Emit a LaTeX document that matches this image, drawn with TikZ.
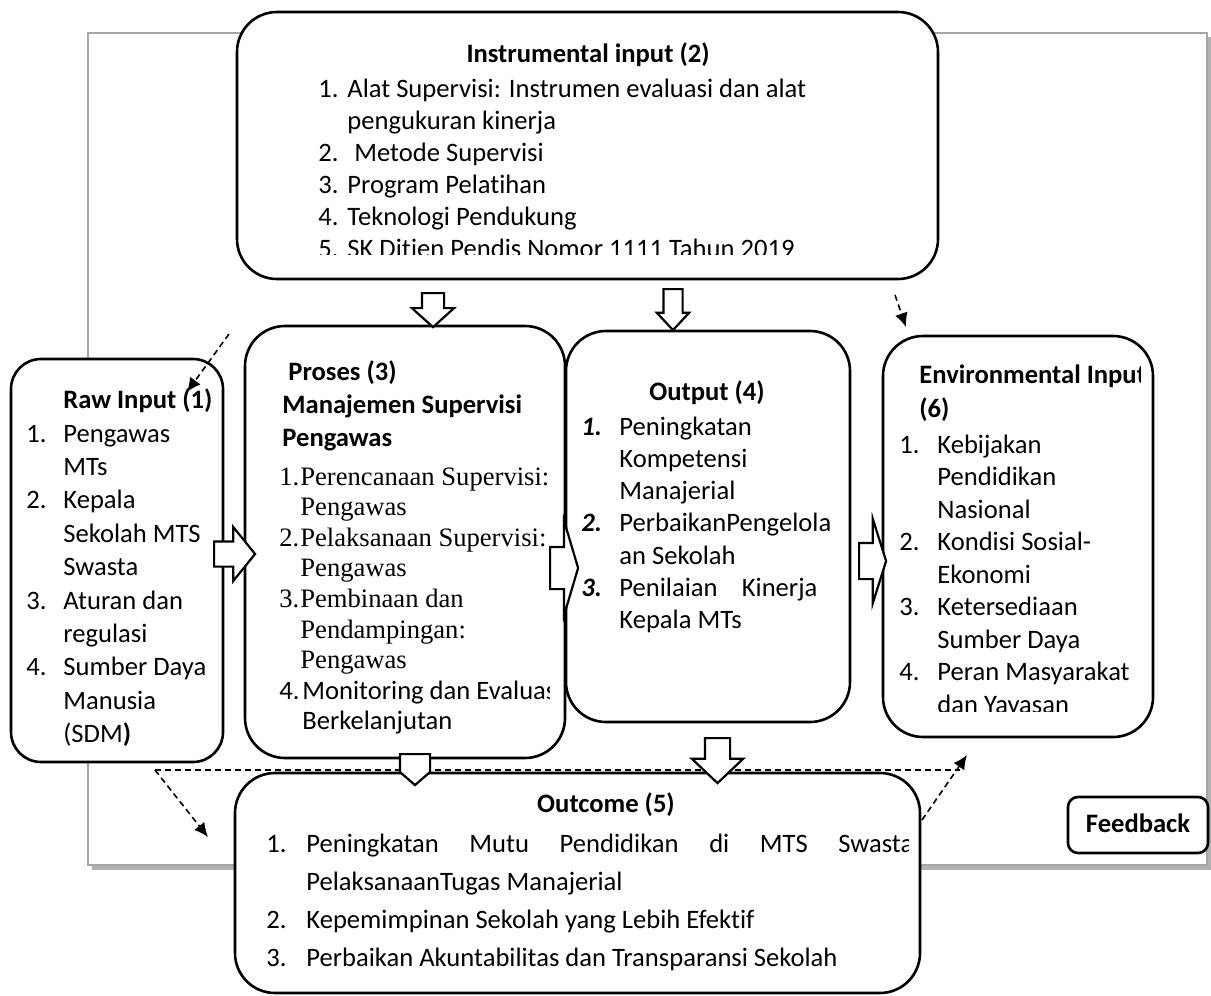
\documentclass[tikz,border=0pt]{standalone}
\usepackage{fontspec}
\setmainfont{Carlito}[Ligatures=NoCommon]
\newfontfamily\timesfont{Liberation Serif}
\usetikzlibrary{arrows.meta,shapes.arrows}
\newcommand{\itemlist}[2]{\begin{tabular}[t]{@{}p{#1}@{}l@{}}#2\end{tabular}}
\newcommand{\rowlist}[1]{\begin{tabular}[t]{@{}l@{}}#1\end{tabular}}

\begin{document}
\fontsize{13.3pt}{16.25pt}\selectfont
\begin{tikzpicture}[x=0.5pt,y=-0.5pt,>={Latex[length=7pt,width=6.5pt]}]
  \tikzset{box/.style={draw,line width=1.3pt,fill=white,rounded corners=20pt,inner sep=0pt},
    txt/.style={anchor=base west,inner sep=0pt},
    lst/.style={txt,font=\fontsize{13.3pt}{#1}\selectfont},
    ttl/.style={anchor=base,inner sep=0pt,font=\bfseries},
    blockarrow/.style={single arrow,draw,fill=white,line width=1.1pt,inner xsep=0pt,minimum width=0pt,anchor=tail},
    feedline/.style={line width=0.8pt,dash pattern=on 3pt off 2pt},
    feedarrow/.style={feedline,->}}

  \useasboundingbox (0,0) rectangle (1211,996);

  % frame
  \draw[black!30,line width=2pt] (92,868) -- (1209,868) -- (1209,37);
  \draw[gray!70,line width=0.8pt] (88,33) rectangle (1207,865);

  % boxes
  \node[box,minimum width=350.5pt,minimum height=133.5pt] (instr) at (587.5,145.5) {};
  \node[box,rounded corners=15pt,minimum width=106pt,minimum height=201.5pt] (raw) at (117,560.5) {};
  \node[box,minimum width=160pt,minimum height=216pt] (proses) at (405,542) {};
  \node[box,minimum width=142pt,minimum height=195.5pt] (output) at (708,526.5) {};
  \node[box,minimum width=135pt,minimum height=200.5pt] (env) at (1018,536.5) {};
  \node[box,minimum width=342.5pt,minimum height=110pt] (outcome) at (577.5,883) {};
  \node[box,rounded corners=5pt,minimum width=70pt,minimum height=28pt] (feedback) at (1138,825) {};

  % feedback lines
  \coordinate (fbin1) at (229,334);
  \coordinate (fbin2) at (187,392);
  \coordinate (fbtop1) at (895,295);
  \coordinate (fbtop2) at (906,327);
  \coordinate (fbleft) at (155,770);
  \coordinate (fbright) at (960,770);
  \coordinate (fbdown) at (208,837);
  \coordinate (fbup1) at (922,820);
  \coordinate (fbup2) at (967,755);
  \draw[feedarrow] (fbin1) -- (fbin2);
  \draw[feedarrow] (fbtop1) -- (fbtop2);
  \draw[feedline] (fbleft) -- (fbright);
  \draw[feedarrow] (fbleft) -- (fbdown);
  \draw[feedarrow] (fbup1) -- (fbup2);

  % block arrows
  \node[blockarrow,inner ysep=5.75pt,single arrow head extend=7.25pt,minimum height=20.5pt,single arrow tip angle=102] (a1) at (213,554) {};
  \node[blockarrow,inner ysep=10pt,single arrow head extend=13.25pt,minimum height=14pt,single arrow tip angle=147] (a2) at (549,568) {};
  \node[blockarrow,inner ysep=8.5pt,single arrow head extend=12pt,minimum height=13.5pt,single arrow tip angle=145] (a3) at (858,561) {};
  \node[blockarrow,rotate=-90,inner ysep=5pt,single arrow head extend=5pt,minimum height=17pt,single arrow tip angle=96] (a4) at (433,292) {};
  \node[blockarrow,rotate=-90,inner ysep=4.25pt,single arrow head extend=3.25pt,minimum height=20.5pt,single arrow tip angle=86] (a5) at (673,288) {};
  \node[blockarrow,rotate=-90,inner ysep=7pt,single arrow head extend=0pt,minimum height=15.5pt,single arrow tip angle=98] (a6) at (415,753) {};
  \node[blockarrow,rotate=-90,inner ysep=5.75pt,single arrow head extend=6.5pt,minimum height=22.5pt,single arrow tip angle=93] (a7) at (717.5,737) {};

  % texts
  \node[ttl] (instrttl) at (588,62) {Instrumental input (2)};
  \begin{scope}
    \clip (237,12) rectangle (938,254);
    \node[lst=16pt] (instrlist) at (318,97) {\itemlist{14.5pt}{1. & Alat Supervisi: Instrumen evaluasi dan alat\\
      & pengukuran kinerja\\
      2. & \hspace{3.5pt}Metode Supervisi\\
      3. & Program Pelatihan\\
      4. & Teknologi Pendukung\\
      5. & SK Ditjen Pendis Nomor 1111 Tahun 2019}};
  \end{scope}

  \node[txt,font=\bfseries] (rawttl) at (63,408) {Raw Input (1)};
  \node[lst=16.7pt] (rawlist) at (26,442) {\itemlist{18.5pt}{1. & Pengawas\\ & MTs\\
      2. & Kepala\\ & Sekolah MTS\\ & Swasta\\
      3. & Aturan dan\\ & regulasi\\
      4. & Sumber Daya\\ & Manusia\\ & (SDM\textbf{)}}};

  \node[lst=16.5pt] (prosesttl) at (282,380) {\bfseries\rowlist{\hspace{3pt}Proses (3)\\ Manajemen Supervisi\\ Pengawas}};
  \begin{scope}
    \clip (245,326) rectangle (549,733);
    \node[lst=15.3pt] (proseslist) at (279,485) {\timesfont\itemlist{10.5pt}{1. & Perencanaan Supervisi:\\ & Pengawas\\
      2. & Pelaksanaan Supervisi:\\ & Pengawas\\
      3. & Pembinaan dan\\ & Pendampingan:\\ & Pengawas\\
      \normalfont 4. & \normalfont\hspace{1pt}Monitoring dan Evaluasi\\ & \normalfont\hspace{1pt}Berkelanjutan}};
  \end{scope}

  \node[ttl] (outputttl) at (707,400) {Output (4)};
  \node[lst=16.15pt] (outputlist) at (581,435) {\itemlist{19pt}{\textbf{\textit{1.}} & Peningkatan\\ & Kompetensi\\ & Manajerial\\
      \textbf{\textit{2.}} & PerbaikanPengelola\\ & an Sekolah\\
      \textbf{\textit{3.}} & \makebox[99pt][s]{Penilaian\hfill Kinerja}\\ & Kepala MTs}};

  \begin{scope}
    \clip (883,336) rectangle (1140,711);
    \node[lst=17pt] (envttl) at (919,383) {\bfseries\rowlist{Environmental Input\\ (6)}};
    \node[lst=16.25pt] (envlist) at (899,453) {\itemlist{19pt}{1. & Kebijakan\\ & Pendidikan\\ & Nasional\\
      2. & Kondisi Sosial-\\ & Ekonomi\\
      3. & Ketersediaan\\ & Sumber Daya\\
      4. & Peran Masyarakat\\ & dan Yayasan}};
  \end{scope}

  \node[ttl] (outcomettl) at (606,812) {Outcome (5)};
  \begin{scope}
    \clip (235,773) rectangle (908,996);
    \node[lst=19pt] (outcomelist) at (266,852) {\itemlist{20pt}{1. & \makebox[303.5pt][s]{Peningkatan\hfill Mutu\hfill Pendidikan\hfill di\hfill MTS\hfill Swasta}\\
      & PelaksanaanTugas Manajerial\\
      2. & Kepemimpinan Sekolah yang Lebih Efektif\\
      3. & Perbaikan Akuntabilitas dan Transparansi Sekolah}};
  \end{scope}

  \node[ttl] (feedbackttl) at (1138,832) {Feedback};
\end{tikzpicture}
\end{document}
